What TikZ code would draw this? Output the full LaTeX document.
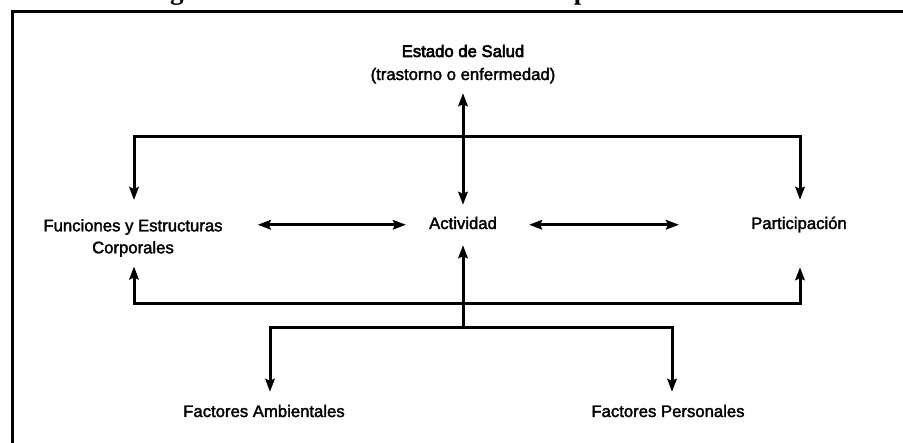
\documentclass[tikz,border=0pt]{standalone}
\usepackage{fontspec}
\setmainfont{Liberation Sans}
\newfontfamily\etiqueta{Liberation Sans}[FakeBold=2]
\newfontfamily\etiquetafuerte{Liberation Sans}[FakeBold=3.5]
\newfontfamily\leyenda{Liberation Serif}
\usetikzlibrary{arrows.meta}
\begin{document}
\begin{tikzpicture}[x=1pt, y=-1pt, >={Stealth[length=13pt, width=9.5pt, inset=2pt]},
		texto/.style={inner sep=0pt, anchor=base, font=\etiqueta\fontsize{16.7}{22}\selectfont, text height=12pt, text depth=3.5pt},
		linea/.style={line width=3pt}]
	\useasboundingbox (0, 0) rectangle (903, 443);
	\draw[line width=3pt] (12, 443) -- (12, 12) -- (903, 12);
	\node[anchor=base west, inner sep=0pt, font=\leyenda\bfseries\fontsize{27}{30}\selectfont] (figura) at (146, -0.5) {Figura 1. Interacciones entre los componentes de la CIF};

	\node[texto, font=\etiquetafuerte\fontsize{16.7}{22}\selectfont] (salud) at (463, 57) {Estado de Salud};
	\node[texto] (trastorno) at (463, 80) {(trastorno o enfermedad)};
	\node[inner sep=0pt, anchor=north, align=center, font=\etiqueta\fontsize{16.7}{22}\selectfont] (funciones) at (133, 219) {Funciones y Estructuras\\Corporales};
	\node[texto] (actividad) at (463, 229) {Actividad};
	\node[texto] (participacion) at (799, 229) {Participación};
	\node[texto] (ambientales) at (264, 417) {Factores Ambientales};
	\node[texto] (personales) at (668, 417) {Factores Personales};

	\coordinate (arriba) at (463, 137);
	\coordinate (abajo) at (463, 304);
	\coordinate (factores) at (463, 328);

	\draw[linea, <->, shorten <=9.5pt, shorten >=12pt] (trastorno.south) -- (actividad.north);
	\draw[linea, ->, shorten >=19pt] (arriba) -| ([xshift=1pt]funciones.north);
	\draw[linea, ->, shorten >=17pt] (arriba) -| ([xshift=1pt]participacion.north);
	\draw[linea, <->, shorten <=35pt, shorten >=23pt] (funciones.east |- actividad) -- (actividad.west);
	\draw[linea, <->, shorten <=32pt, shorten >=72pt] (actividad.east) -- (participacion.west);
	\draw[linea, ->, shorten >=9.5pt] (abajo) -| ([xshift=1pt]funciones.south);
	\draw[linea, ->, shorten >=34.5pt] (abajo) -| ([xshift=1pt]participacion.south);
	\draw[linea, ->, shorten >=12.5pt] (factores) -- (actividad.south);
	\draw[linea, ->, shorten >=13pt] (factores) -| ([xshift=6pt]ambientales.north);
	\draw[linea, ->, shorten >=13pt] (factores) -| ([xshift=4pt]personales.north);
\end{tikzpicture}
\end{document}
